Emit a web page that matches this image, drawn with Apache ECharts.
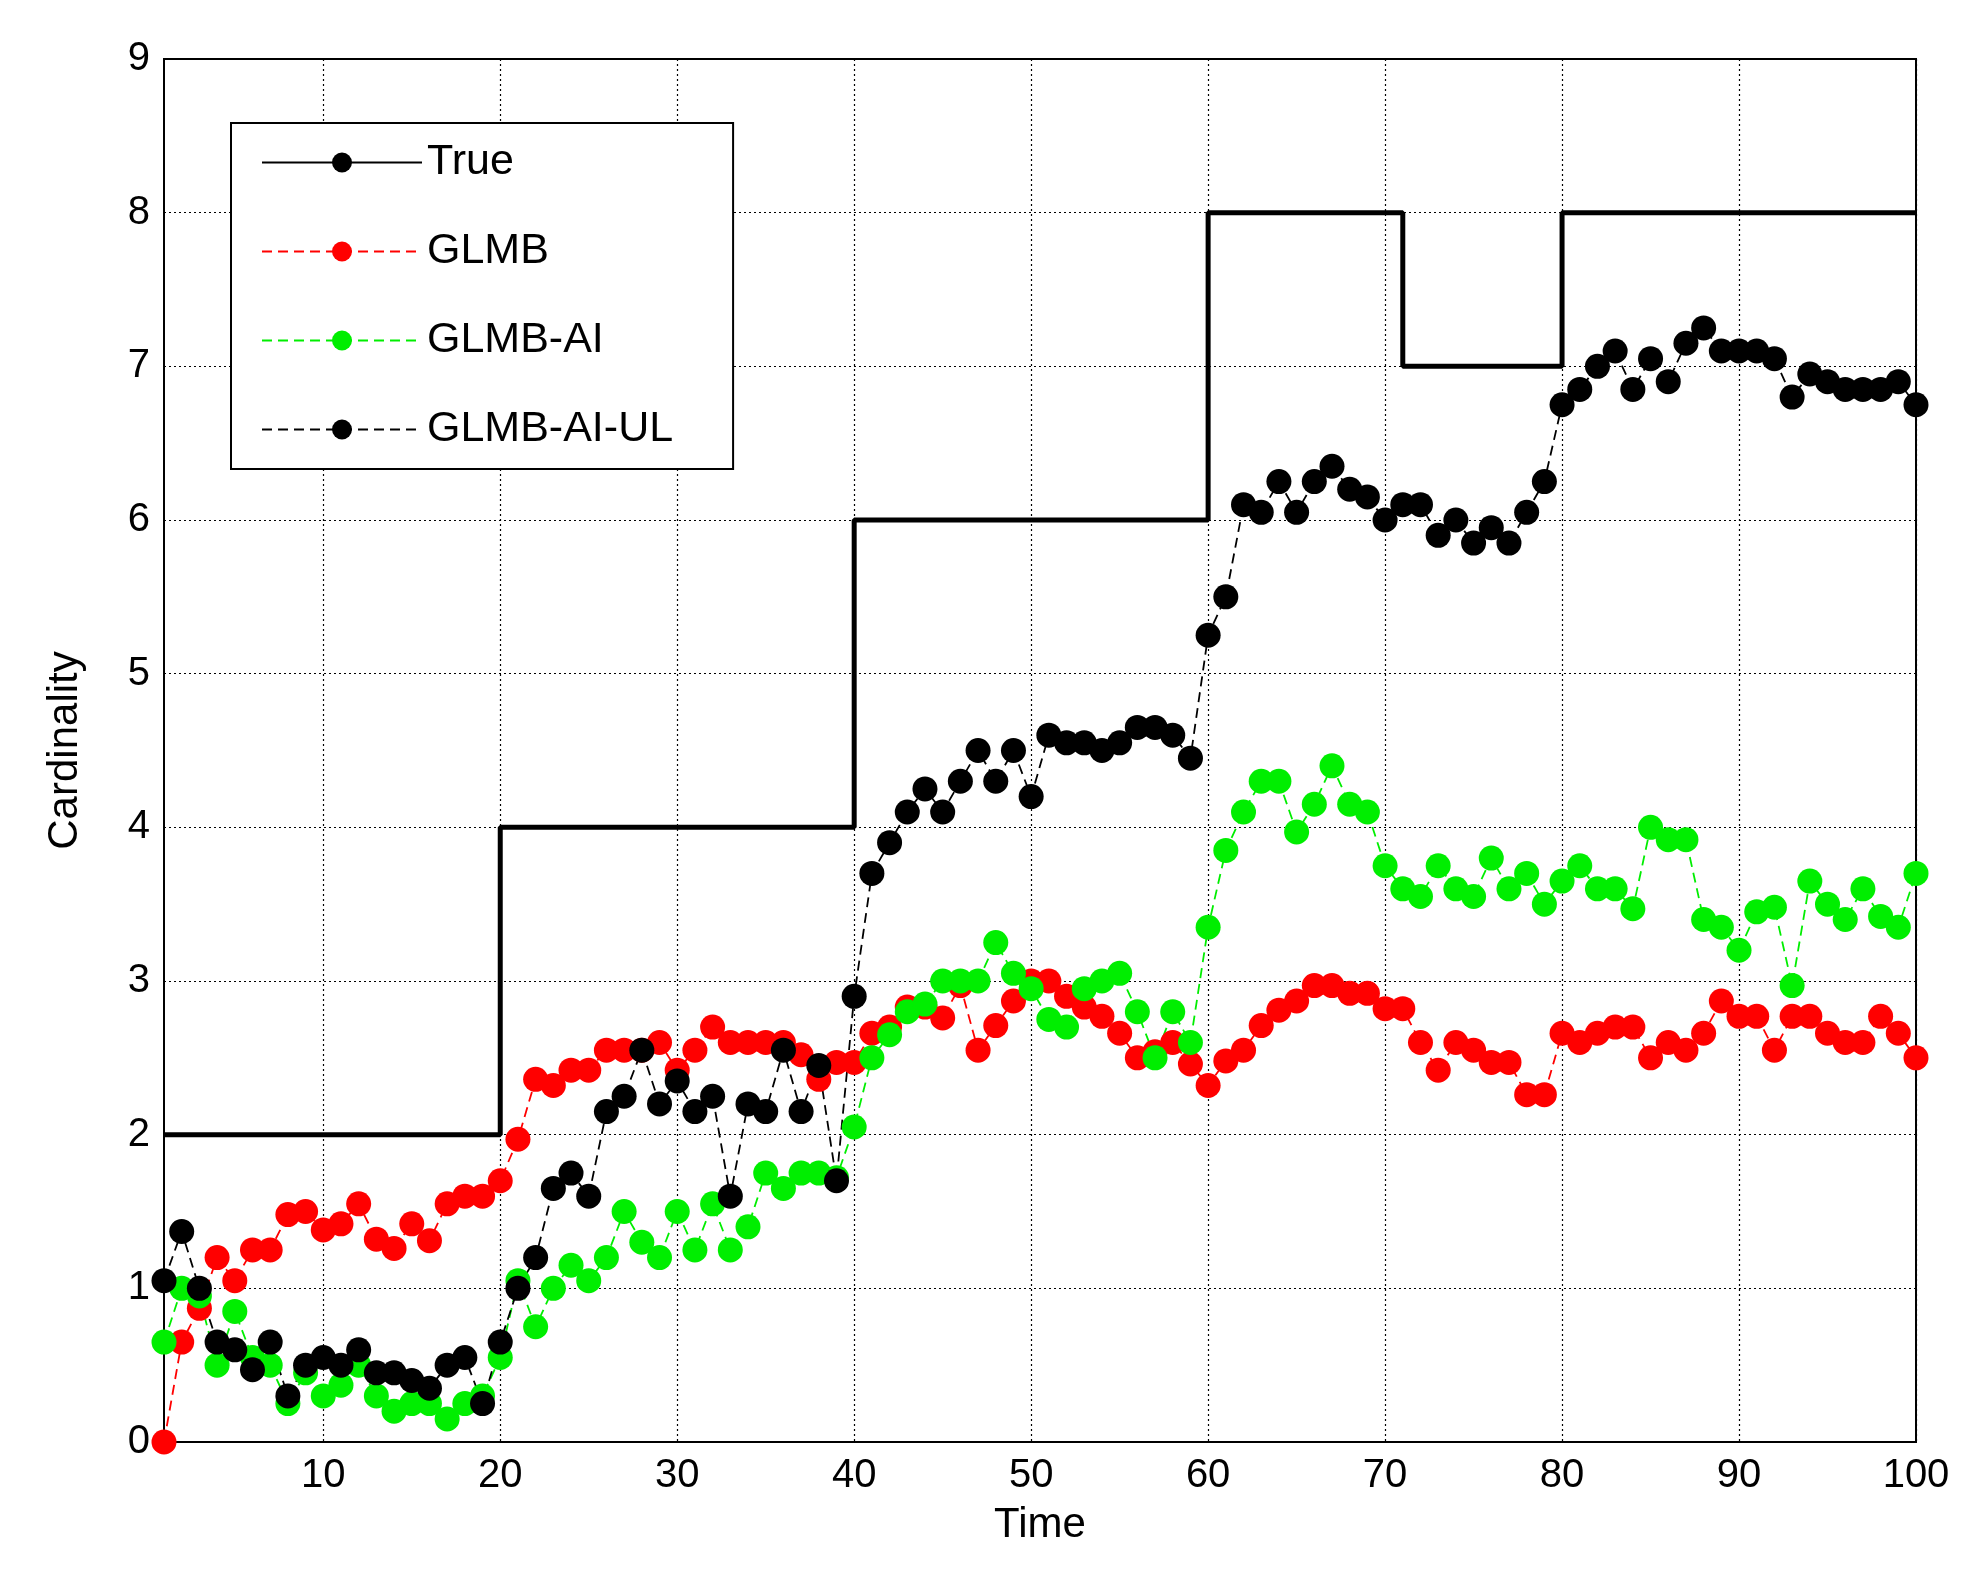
<!DOCTYPE html>
<html><head><meta charset="utf-8">
<script src="https://cdn.jsdelivr.net/npm/echarts@6/dist/echarts.min.js"></script>
<style>html,body{margin:0;background:#fff}#main{width:1974px;height:1596px}</style>
</head><body><div id="main"></div>
<script>
// cardinality estimates, t = 1..100
var glmb = [0,0.65,0.87,1.2,1.05,1.25,1.25,1.48,1.5,1.38,1.42,1.55,1.32,1.26,1.42,1.31,1.55,1.6,1.6,1.7,
  1.97,2.36,2.32,2.42,2.42,2.55,2.55,2.55,2.6,2.42,2.55,2.7,2.6,2.6,2.6,2.6,2.52,2.36,2.47,2.47,
  2.66,2.7,2.83,2.83,2.76,2.97,2.55,2.71,2.87,3.0,3.0,2.9,2.83,2.77,2.66,2.5,2.54,2.6,2.46,2.32,
  2.48,2.55,2.71,2.81,2.87,2.97,2.97,2.92,2.92,2.82,2.82,2.6,2.42,2.6,2.55,2.47,2.47,2.26,2.26,2.66,
  2.6,2.66,2.7,2.7,2.5,2.6,2.55,2.66,2.87,2.77,2.77,2.55,2.77,2.77,2.66,2.6,2.6,2.77,2.66,2.5];
var glmbAI = [0.65,1.0,0.95,0.5,0.85,0.55,0.5,0.25,0.45,0.3,0.37,0.5,0.3,0.2,0.25,0.25,0.15,0.25,0.3,0.55,
  1.05,0.75,1.0,1.15,1.05,1.2,1.5,1.3,1.2,1.5,1.25,1.55,1.25,1.4,1.75,1.65,1.75,1.75,1.72,2.05,
  2.5,2.65,2.8,2.85,3.0,3.0,3.0,3.25,3.05,2.95,2.75,2.7,2.95,3.0,3.05,2.8,2.5,2.8,2.6,3.35,
  3.85,4.1,4.3,4.3,3.97,4.15,4.4,4.15,4.1,3.75,3.6,3.55,3.75,3.6,3.55,3.8,3.6,3.7,3.5,3.65,
  3.75,3.6,3.6,3.47,4.0,3.92,3.92,3.4,3.35,3.2,3.45,3.48,2.97,3.65,3.5,3.4,3.6,3.42,3.35,3.7];
var glmbAIUL = [1.05,1.37,1.0,0.65,0.6,0.47,0.65,0.3,0.5,0.55,0.5,0.6,0.45,0.45,0.4,0.35,0.5,0.55,0.25,0.65,
  1.0,1.2,1.65,1.75,1.6,2.15,2.25,2.55,2.2,2.35,2.15,2.25,1.6,2.2,2.15,2.55,2.15,2.45,1.7,2.9,
  3.7,3.9,4.1,4.25,4.1,4.3,4.5,4.3,4.5,4.2,4.6,4.55,4.55,4.5,4.55,4.65,4.65,4.6,4.45,5.25,
  5.5,6.1,6.05,6.25,6.05,6.25,6.35,6.2,6.15,6.0,6.1,6.1,5.9,6.0,5.85,5.95,5.85,6.05,6.25,6.75,
  6.85,7.0,7.1,6.85,7.05,6.9,7.15,7.25,7.1,7.1,7.1,7.05,6.8,6.95,6.9,6.85,6.85,6.85,6.9,6.75];
// true cardinality breakpoints [time, value]
var trueSteps = [[1,2],[20,2],[20,4],[40,4],[40,6],[60,6],[60,8],[71,8],[71,7],[80,7],[80,8],[100,8]];
var xTicks = [10,20,30,40,50,60,70,80,90,100];

function withTime(arr){ return arr.map(function(v,i){ return [i+1, v]; }); }

var chart = echarts.init(document.getElementById('main'));
var font = 'Arial, "Liberation Sans", sans-serif';
var dotted = {show:true, lineStyle:{color:'#000', type:[2,3], width:1.2}};
function est(name, color, data){
  return {name:name, type:'line', data:withTime(data), symbol:'circle', symbolSize:25,
    itemStyle:{color:color}, lineStyle:{color:color, type:[10,6], width:1.8}, z:3};
}
chart.setOption({
  animation:false,
  grid:{left:164, top:59, width:1752, height:1383, show:true, borderColor:'#000', borderWidth:2},
  xAxis:{type:'value', min:1, max:100, name:'Time', nameLocation:'middle', nameGap:62,
    nameTextStyle:{fontSize:42, color:'#000', fontFamily:font},
    axisLine:{lineStyle:{color:'#000', width:2}},
    axisTick:{show:false, customValues:xTicks},
    axisLabel:{customValues:xTicks, fontSize:40, color:'#000', fontFamily:font, margin:14},
    splitLine:dotted},
  yAxis:{type:'value', min:0, max:9, interval:1, name:'Cardinality', nameLocation:'middle', nameGap:78,
    nameTextStyle:{fontSize:42, color:'#000', fontFamily:font},
    axisLine:{lineStyle:{color:'#000', width:2}}, axisTick:{show:false},
    axisLabel:{fontSize:40, color:'#000', fontFamily:font, margin:14},
    splitLine:dotted},
  legend:{orient:'vertical', left:231, top:123, width:529, padding:[18,60,18,30],
    backgroundColor:'#fff', borderColor:'#000', borderWidth:2,
    itemWidth:160, itemHeight:25, itemGap:46,
    textStyle:{fontSize:43, color:'#000', fontFamily:font},
    data:['True','GLMB','GLMB-AI','GLMB-AI-UL']},
  series:[
    {name:'True', type:'line', data:trueSteps, symbol:'none', lineStyle:{color:'#000', width:5}, itemStyle:{color:'#000'}, z:2},
    est('GLMB','#ff0000',glmb),
    est('GLMB-AI','#00ee00',glmbAI),
    est('GLMB-AI-UL','#000000',glmbAIUL)
  ]
});
</script></body></html>
